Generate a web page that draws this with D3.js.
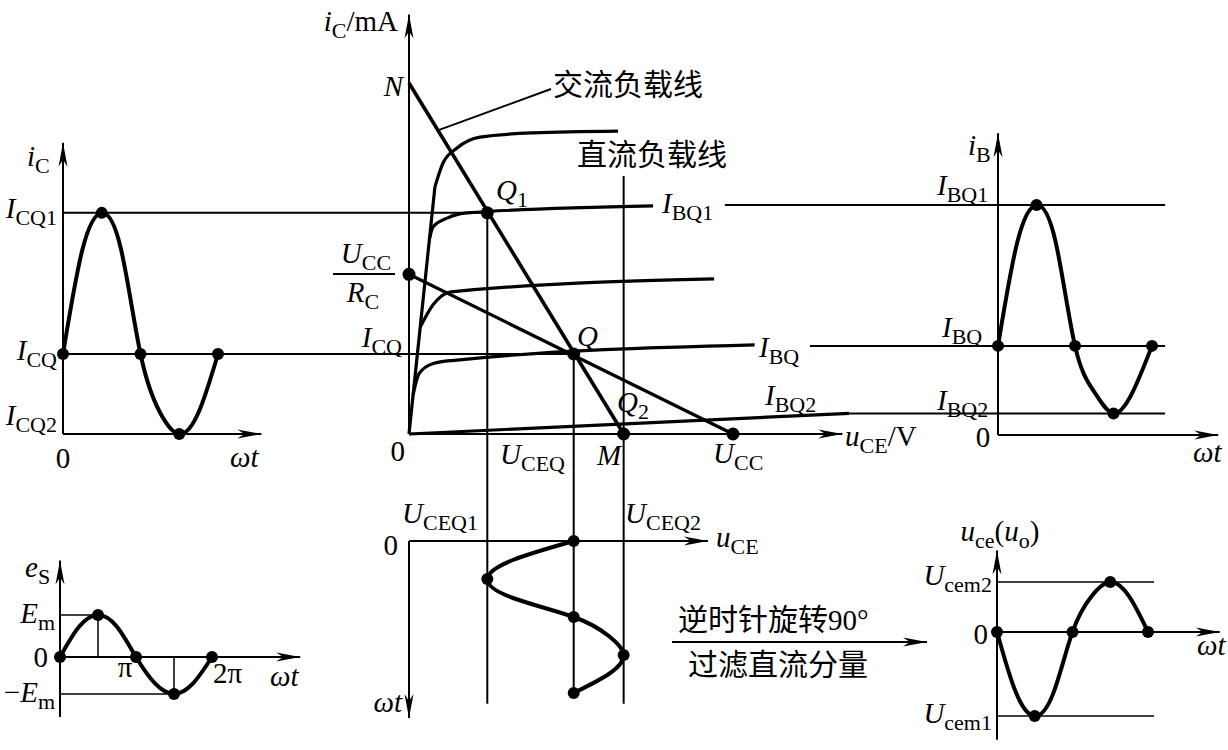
<!DOCTYPE html>
<html>
<head>
<meta charset="utf-8">
<script src="https://cdn.jsdelivr.net/npm/d3@7"></script>
<style>
  body { margin: 0; background: #fff; }
  text { font-family: "Liberation Serif", "Times New Roman", serif; fill: #000; }
  .cjk { font-family: "Noto Sans CJK SC", sans-serif; }
</style>
</head>
<body>
<svg id="chart" width="1228" height="750"></svg>
<script>
// ---- data ----
// ωt samples in units of π
const PHASE = [0, 0.25, 0.5, 0.75, 1, 1.25, 1.5, 1.75, 2];

// operating point values (u in V, i_C in mA, i_B in µA-ish units)
const U_CEQ1 = 2.9, U_CEQ = 6.1, U_CEQ2 = 7.95, U_M = 7.95, U_CC = 12;
const I_N = 10, I_SAT = 4.55;
const I_CQ1 = 6.3, I_CQ = 2.28, I_CQ2 = 0;
const I_BQ1 = 80, I_BQ = 31, I_BQ2 = 7.5;
const E_M = 1, E_MNEG = -0.88;
const U_CEM2 = 1.9, U_CEM1 = -3.2;

// waveforms sampled at PHASE
const icWave = [2.28, 5.25, 6.3, 5.25, 2.28, 0.62, 0, 0.62, 2.28];
const ibWave = [31, 67, 80, 67, 31, 15, 7.5, 15, 31];
const esWave = [0, 0.72, 1, 0.72, 0, -0.63, -0.88, -0.63, 0];
const uceWave = [6.1, 3.85, 2.9, 3.85, 6.1, 7.4, 7.95, 7.4, 6.1];
const uoWave = [0, -2.3, -3.2, -2.3, 0, 1.35, 1.9, 1.35, 0];

// output characteristics [u_CE, i_C]
const satLine = [[0, 0], [0.96, 7.04]];
const curveTop = [[0.96, 7.04], [1.26, 7.72], [1.78, 8.15], [2.63, 8.46], [4.6, 8.58], [7.74, 8.63]];
const curveBQ1 = [[0.75, 5.53], [0.89, 5.9], [1.41, 6.15], [2.15, 6.3], [9.04, 6.5]];
const curveMid = [[0.42, 3.05], [0.89, 3.68], [1.56, 4.05], [11.3, 4.42]];
const curveBQ = [[0.15, 1.11], [0.38, 1.73], [0.9, 2.01], [1.68, 2.1], [12.8, 2.54]];
const curveBQ2 = [[0, 0], [16.3, 0.59]];
const acLine = [[0, I_N], [U_M, 0]];
const dcLine = [[0, I_SAT], [U_CC, 0]];

// ---- scales ----
const xU = d3.scaleLinear().domain([0, 16]).range([409, 841]);
const yI = d3.scaleLinear().domain([0, 10]).range([434, 83]);
const xL = d3.scaleLinear().domain([0, 2]).range([63, 218]);
const xR = d3.scaleLinear().domain([0, 2]).range([998, 1152]);
const yB = d3.scaleLinear().domain([0, 80]).range([435, 205]);
const xE = d3.scaleLinear().domain([0, 2]).range([60, 212]);
const yE = d3.scaleLinear().domain([0, 1]).range([657, 615]);
const tB = d3.scaleLinear().domain([0, 2]).range([541, 693]);
const xO = d3.scaleLinear().domain([0, 2]).range([997, 1148]);
const yO = d3.scaleLinear().domain([-3.2, 1.9]).range([716, 582]);

const P = (u, i) => [xU(u), yI(i)];
const L = (p, i) => [xL(p), yI(i)];
const R = (p, v) => [xR(p), yB(v)];
const E = (p, v) => [xE(p), yE(v)];
const B = (u, p) => [xU(u), tB(p)];
const O = (p, v) => [xO(p), yO(v)];

const svg = d3.select('#chart');

function poly(pts, w, curve) {
  return svg.append('path')
    .attr('d', d3.line().curve(curve || d3.curveLinear)(pts))
    .attr('fill', 'none').attr('stroke', '#000').attr('stroke-width', w);
}

function arrow(pt, dir) {
  const [x, y] = pt, len = 24, w = 4.5, n = 17;
  let pts;
  if (dir === 'r') pts = [[x, y], [x - len, y - w], [x - n, y], [x - len, y + w]];
  if (dir === 'u') pts = [[x, y], [x - w, y + len], [x, y + n], [x + w, y + len]];
  if (dir === 'd') pts = [[x, y], [x - w, y - len], [x, y - n], [x + w, y - len]];
  svg.append('path').attr('d', d3.line()(pts) + 'Z').attr('fill', '#000');
}

function dots(pts, r) {
  svg.append('g').selectAll('circle').data(pts).join('circle')
    .attr('cx', d => d[0]).attr('cy', d => d[1]).attr('r', r || 6).attr('fill', '#000');
}

const FS = 29, SUB = 22, SHIFT = 7;
function rich(x, y, segs, anchor) {
  const t = svg.append('text').attr('x', x).attr('y', y)
    .attr('text-anchor', anchor || 'start').attr('font-size', FS);
  let low = false;
  segs.forEach(([s, k]) => {
    const sp = t.append('tspan').text(s);
    if (k.includes('i')) sp.attr('font-style', 'italic');
    if (k.includes('s')) {
      sp.attr('font-size', SUB);
      if (!low) { sp.attr('dy', SHIFT); low = true; }
    } else if (low) { sp.attr('dy', -SHIFT); low = false; }
  });
  return t;
}
const sym = (a, b) => [[a, 'i'], [b, 's']];

function cjk(x, y, str, tail) {
  const t = svg.append('text').attr('x', x).attr('y', y).attr('font-size', 30);
  t.append('tspan').attr('class', 'cjk').text(str);
  if (tail) t.append('tspan').attr('font-size', FS).text(tail);
  return t;
}

const everyHalfPi = (wave, f) => PHASE.filter((p, k) => k % 2 === 0).map(p => f(p, wave[PHASE.indexOf(p)]));

// ---- central: output characteristics ----
poly([P(0, 0), P(16.05, 0)], 2); arrow(P(16.05, 0), 'r');
poly([P(0, 0), P(0, 11.95)], 2); arrow(P(0, 11.95), 'u');

poly(satLine.map(d => P(...d)), 3.2);
[curveTop, curveBQ1, curveMid, curveBQ].forEach(c =>
  poly(c.map(d => P(...d)), 3.2, d3.curveMonotoneX));
poly(curveBQ2.map(d => P(...d)), 3.2);
poly(acLine.map(d => P(...d)), 3.6);
poly(dcLine.map(d => P(...d)), 3.2);

// projection lines
poly([L(0, I_CQ1), P(U_CEQ1, I_CQ1)], 2);
poly([L(0, I_CQ), P(U_CEQ, I_CQ)], 2);
poly([P(U_CEQ1, I_CQ1), B(U_CEQ1, 2.14)], 2);
poly([P(U_CEQ, I_CQ), B(U_CEQ, 2)], 2);
poly([P(U_CEQ2, 7.35), B(U_CEQ2, 2.14)], 2);

// i_B level lines running to the right panel
poly([[xU(11.7), yB(I_BQ1)], R(2.17, I_BQ1)], 2);
poly([[xU(14.85), yB(I_BQ)], R(2.17, I_BQ)], 2);
poly([[xU(16.3), yB(I_BQ2)], R(2.17, I_BQ2)], 2);

dots([P(0, I_SAT), P(U_CEQ1, I_CQ1), P(U_CEQ, I_CQ), P(U_M, 0), P(U_CC, 0)], 6.5);

// leader for ac load line
poly([P(1.07, 8.65), [551, 89]], 2);

rich(398, 31, [['i', 'i'], ['C', 's'], ['/mA', 'r']], 'end');
rich(403, 96, [['N', 'i']], 'end');
cjk(553, 95, '交流负载线');
cjk(577, 165, '直流负载线');
rich(496, 200, sym('Q', '1'));
rich(577, 346, [['Q', 'i']]);
rich(617, 412, sym('Q', '2'));
rich(662, 213, sym('I', 'BQ1'));
rich(759, 357, sym('I', 'BQ'));
rich(765, 405, sym('I', 'BQ2'));
rich(366, 263, sym('U', 'CC'), 'middle');
poly([[333, 274], [395, 274]], 2);
rich(363, 302, sym('R', 'C'), 'middle');
rich(402, 347, sym('I', 'CQ'), 'end');
rich(405, 461, [['0', 'r']], 'end');
rich(500, 464, sym('U', 'CEQ'));
rich(597, 465, [['M', 'i']]);
rich(713, 463, sym('U', 'CC'));
rich(845, 446, [['u', 'i'], ['CE', 's'], ['/V', 'r']]);

// ---- left panel: i_C(ωt) ----
poly([L(0, 0), L(2.56, 0)], 2); arrow(L(2.56, 0), 'r');
poly([L(0, 0), L(0, 8.3)], 2); arrow(L(0, 8.3), 'u');
poly(PHASE.map((p, k) => L(p, icWave[k])), 4, d3.curveNatural);
dots(everyHalfPi(icWave, L));
rich(27, 166, sym('i', 'C'));
rich(57, 218, sym('I', 'CQ1'), 'end');
rich(57, 360, sym('I', 'CQ'), 'end');
rich(57, 425, sym('I', 'CQ2'), 'end');
rich(63, 468, [['0', 'r']], 'middle');
rich(230, 467, [['ωt', 'i']]);

// ---- right panel: i_B(ωt) ----
poly([R(0, 0), R(2.86, 0)], 2); arrow(R(2.86, 0), 'r');
poly([R(0, 0), R(0, 105)], 2); arrow(R(0, 105), 'u');
poly(PHASE.map((p, k) => R(p, ibWave[k])), 4, d3.curveNatural);
dots(everyHalfPi(ibWave, R));
rich(968, 155, sym('i', 'B'));
rich(937, 195, sym('I', 'BQ1'));
rich(942, 337, sym('I', 'BQ'));
rich(937, 410, sym('I', 'BQ2'));
rich(983, 447, [['0', 'r']], 'middle');
rich(1193, 462, [['ωt', 'i']]);

// ---- bottom-left: e_S(ωt) ----
poly([E(0, 0), E(3.16, 0)], 2); arrow(E(3.16, 0), 'r');
poly([E(0, -1.43), E(0, 2.3)], 2); arrow(E(0, 2.3), 'u');
poly([E(0, E_M), E(0.5, E_M)], 1.5);
poly([E(0, E_MNEG), E(1.5, E_MNEG)], 1.5);
poly([E(0.5, 0), E(0.5, E_M)], 1.5);
poly([E(1.5, 0), E(1.5, E_MNEG)], 1.5);
poly(PHASE.map((p, k) => E(p, esWave[k])), 4, d3.curveNatural);
dots(everyHalfPi(esWave, E));
rich(25, 577, sym('e', 'S'));
rich(55, 623, sym('E', 'm'), 'end');
rich(48, 667, [['0', 'r']], 'end');
rich(55, 702, [['−', 'r'], ['E', 'i'], ['m', 's']], 'end');
rich(125, 677, [['π', 'r']], 'middle');
rich(213, 683, [['2π', 'r']]);
rich(270, 686, [['ωt', 'i']]);

// ---- bottom-centre: u_CE(ωt), time running down ----
poly([B(0, 0), B(11.07, 0)], 2); arrow(B(11.07, 0), 'r');
poly([B(0, 0), B(0, 2.33)], 2); arrow(B(0, 2.33), 'd');
poly(PHASE.map((p, k) => B(uceWave[k], p)), 4, d3.curveNatural);
dots(everyHalfPi(uceWave, (p, u) => B(u, p)));
rich(402, 523, sym('U', 'CEQ1'));
rich(625, 523, sym('U', 'CEQ2'));
rich(398, 555, [['0', 'r']], 'end');
rich(716, 547, sym('u', 'CE'));
rich(402, 712, [['ωt', 'i']], 'end');

// ---- rotation note ----
cjk(678, 630, '逆时针旋转', '90°');
poly([[672, 642], [927, 642]], 2); arrow([927, 642], 'r');
cjk(688, 675, '过滤直流分量');

// ---- bottom-right: u_ce(u_o) ----
poly([O(0, 0), O(2.95, 0)], 2); arrow(O(2.95, 0), 'r');
poly([O(0, -4.1), O(0, 3.1)], 2); arrow(O(0, 3.1), 'u');
poly([O(0, U_CEM2), O(2.08, U_CEM2)], 1.3);
poly([O(0, U_CEM1), O(2.08, U_CEM1)], 1.3);
poly(PHASE.map((p, k) => O(p, uoWave[k])), 4, d3.curveNatural);
dots(everyHalfPi(uoWave, O));
rich(1000, 541, [['u', 'i'], ['ce', 's'], ['(', 'r'], ['u', 'i'], ['o', 's'], [')', 'r']], 'middle');
rich(992, 585, sym('U', 'cem2'), 'end');
rich(988, 644, [['0', 'r']], 'end');
rich(992, 723, sym('U', 'cem1'), 'end');
rich(1197, 655, [['ωt', 'i']]);
</script>
</body>
</html>
